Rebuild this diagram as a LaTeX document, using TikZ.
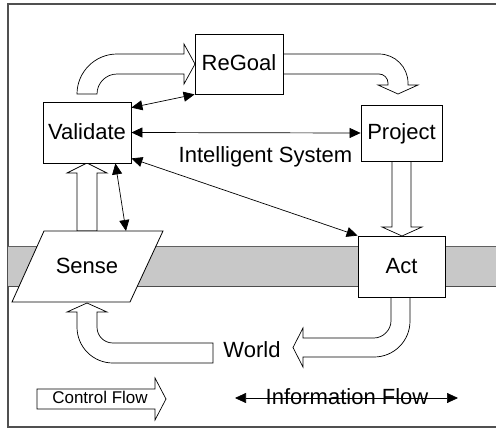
\documentclass[tikz,border=0pt]{standalone}
\usepackage{fontspec}
\setmainfont{Liberation Sans}
\usetikzlibrary{arrows.meta}
\definecolor{bandgray}{RGB}{200,200,200}
\definecolor{frameline}{RGB}{80,80,80}
\tikzset{
  bigfont/.style={font=\fontsize{22pt}{26pt}\selectfont, text height=15pt, text depth=2pt},
  box/.style={bigfont, draw=black, line width=0.8pt, fill=white, inner sep=0pt},
  txt/.style={bigfont, inner sep=0pt},
  blockarrow/.style={draw=black, line width=0.7pt, fill=white, line join=miter},
  info/.style={line width=0.7pt, {Triangle[length=11pt,width=10pt]}-{Triangle[length=11pt,width=10pt]}},
}
\begin{document}
\begin{tikzpicture}[x=1pt, y=-1pt]
  \useasboundingbox (0,0) rectangle (496,429);

  % outer frame
  \draw[frameline, line width=1.1pt] (8,4) rectangle (520,427);

  % boundary band between system and world
  \fill[bandgray] (8,246) rectangle (520,286);
  \draw[gray!75!black, line width=0.5pt] (8,246) -- (520,246);
  \draw[gray!60!black, line width=0.9pt] (8,286) -- (520,286);

  % control-flow block arrows
  % Validate -> ReGoal
  \draw[blockarrow] (77,94) .. controls (77,72) and (95,54) .. (117,54)
    -- (184,54) -- (184,44) -- (195,64) -- (184,84) -- (184,74) -- (117,74)
    .. controls (106,74) and (97,83) .. (97,94) -- cycle;
  % ReGoal -> Project
  \draw[blockarrow] (283,54) -- (379,54) .. controls (395,54) and (408,67) .. (408,83)
    -- (408,85) -- (418,85) -- (398,94) -- (378,85) -- (388,85) -- (388,83)
    .. controls (388,78) and (384,74) .. (379,74) -- (283,74) -- cycle;
  % Project -> Act
  \draw[blockarrow] (392,161) -- (392,227) -- (382,227) -- (402,236) -- (422,227)
    -- (411,227) -- (411,161) -- cycle;
  % Act -> World
  \draw[blockarrow] (391,297) -- (391,321) .. controls (391,330) and (383,338) .. (374,338)
    -- (303,338) -- (303,328) -- (293,347.5) -- (303,367) -- (303,357) -- (374,357)
    .. controls (394,357) and (410,341) .. (410,321) -- (410,297) -- cycle;
  % World -> Sense
  \draw[blockarrow] (213,343) -- (113,343) .. controls (104,343) and (97,336) .. (97,327)
    -- (97,312) -- (107,312) -- (87,303) -- (67,312) -- (77,312) -- (77,327)
    .. controls (77,347) and (93,363) .. (113,363) -- (213,363) -- cycle;
  % Sense -> Validate
  \draw[blockarrow] (77,231) -- (77,173) -- (67,173) -- (87,163) -- (107,173)
    -- (97,173) -- (97,231) -- cycle;

  % components
  \node[box, minimum width=88pt, minimum height=60pt] (regoal) at (239,64) {ReGoal};
  \node[box, minimum width=88pt, minimum height=61pt] (validate) at (87,132.5) {Validate};
  \node[box, minimum width=81pt, minimum height=56pt] (project) at (401.5,133) {Project};
  \node[box, minimum width=87pt, minimum height=61pt] (act) at (401.5,266.5) {Act};
  \draw[draw=black, line width=0.8pt, fill=white] (44,231) -- (163,231) -- (130,302) -- (12,302) -- cycle;
  \node[txt] (sense) at (87,266.5) {Sense};
  \coordinate (sensetop) at (126,231);

  \node[txt] (world) at (252,351) {World};
  \node[txt] (system) at (265.5,155.5) {Intelligent System};

  % information-flow connectors
  \draw[info] ([yshift=-6pt]validate.north east) -- (regoal.south west);
  \draw[info] (validate.east) -- (project.west);
  \draw[info] ([yshift=5pt]validate.south east) -- (act.north west);
  \draw[info] ([xshift=-16pt]validate.south east) -- (sensetop);

  % legend
  \draw[blockarrow] (37,389) -- (155,389) -- (155,378) -- (166,399) -- (155,420)
    -- (155,409) -- (37,409) -- cycle;
  \node[font=\fontsize{17pt}{20pt}\selectfont, text height=12pt, text depth=0pt, inner sep=0pt]
    (ctrl) at (100,397) {Control Flow};
  \node[txt] (infotext) at (347,397.5) {Information Flow};
  \coordinate (infoL) at (235,398);
  \coordinate (infoR) at (458,398);
  \draw[info] (infoL) -- (infoR);
\end{tikzpicture}
\end{document}
